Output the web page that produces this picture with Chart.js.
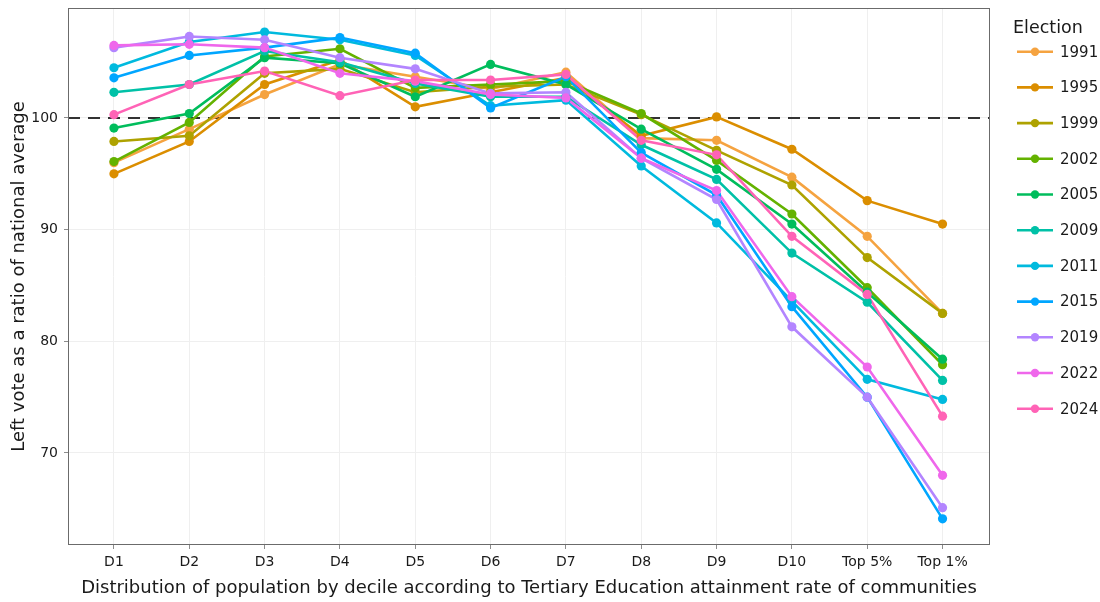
<!DOCTYPE html>
<html>
<head>
<meta charset="utf-8">
<script src="https://cdn.jsdelivr.net/npm/chart.js@4.4.1/dist/chart.umd.min.js"></script>
<style>
    html, body { margin: 0; padding: 0; background: #fff; }
    #wrap { width: 1100px; height: 602px; position: relative; }
</style>
</head>
<body>
<div id="wrap"><canvas id="leftVoteChart"></canvas></div>
<script>
// ===================================
// Left vote by tertiary education decile
// ===================================

const categories = ['D1', 'D2', 'D3', 'D4', 'D5', 'D6', 'D7', 'D8', 'D9', 'D10', 'Top 5%', 'Top 1%'];
const elections = ['1991', '1995', '1999', '2002', '2005', '2009', '2011', '2015', '2019', '2022', '2024'];
const seriesColors = ['#F5A340', '#DB8E00', '#AEA200', '#64B200', '#00BD5C', '#00C1A7', '#00BADE', '#00A6FF', '#B385FF', '#EF67EB', '#FF63B6'];

const v1991 = [96.0, 99.0, 102.1, 104.8, 103.7, 102.6, 104.1, 98.2, 98.0, 94.7, 89.4, 82.5];
const v1995 = [95.0, 97.9, 103.0, 105.2, 101.0, 102.3, 103.6, 98.4, 100.1, 97.2, 92.6, 90.5];
const v1999 = [97.9, 98.4, 104.0, 104.4, 102.3, 102.8, 103.0, 100.3, 97.1, 94.0, 87.5, 82.5];
const v2002 = [96.1, 99.6, 105.5, 106.2, 102.7, 103.0, 103.3, 100.4, 96.2, 91.4, 84.8, 77.9];
const v2005 = [99.1, 100.4, 105.4, 104.9, 101.9, 104.8, 103.0, 99.0, 95.4, 90.5, 84.4, 78.4];
const v2009 = [102.3, 103.0, 106.0, 105.0, 103.1, 101.9, 101.9, 97.6, 94.5, 87.9, 83.5, 76.5];
const v2011 = [104.5, 106.8, 107.7, 107.0, 105.6, 101.1, 101.6, 95.7, 90.6, 83.6, 76.6, 74.8];
const v2015 = [103.6, 105.6, 106.3, 107.2, 105.8, 100.9, 103.7, 96.9, 93.1, 83.1, 75.0, 64.1];
const v2019 = [106.3, 107.3, 107.0, 105.4, 104.4, 102.2, 102.3, 96.4, 92.7, 81.3, 75.0, 65.1];
const v2022 = [106.5, 106.6, 106.3, 104.0, 103.3, 102.1, 101.8, 96.4, 93.5, 84.0, 77.7, 68.0];
const v2024 = [100.3, 103.0, 104.2, 102.0, 103.4, 103.4, 103.9, 98.0, 96.7, 89.4, 84.2, 73.3];

const seriesValues = [v1991, v1995, v1999, v2002, v2005, v2009, v2011, v2015, v2019, v2022, v2024];
const yTicks = [70, 80, 90, 100];
const refValue = 100;

const FONT = "'DejaVu Sans', Verdana, sans-serif";

// lines first (all), then points on top, like ggplot
function buildDatasets() {
    const lines = [];
    const points = [];
    const n = elections.length;
    elections.forEach((year, i) => {
        const data = seriesValues[i].map((v, j) => ({ x: j, y: v }));
        lines.push({
            label: year,
            data: data,
            borderColor: seriesColors[i],
            backgroundColor: seriesColors[i],
            borderWidth: 2.6,
            pointRadius: 0,
            tension: 0,
            order: 2 * n - i
        });
        points.push({
            label: year + ' pts',
            data: data,
            showLine: false,
            borderColor: seriesColors[i],
            backgroundColor: seriesColors[i],
            pointRadius: 4.6,
            pointBorderWidth: 0,
            order: n - i
        });
    });
    return lines.concat(points);
}

// dashed reference line, panel border and legend
const extrasPlugin = {
    id: 'extras',
    beforeDatasetsDraw(chart) {
        const { ctx, chartArea, scales } = chart;
        const y = scales.y.getPixelForValue(refValue);
        ctx.save();
        ctx.strokeStyle = '#333333';
        ctx.lineWidth = 2;
        ctx.setLineDash([12, 8]);
        ctx.beginPath();
        ctx.moveTo(chartArea.left, y);
        ctx.lineTo(chartArea.right, y);
        ctx.stroke();
        ctx.restore();
    },
    afterDraw(chart) {
        const { ctx, chartArea } = chart;
        ctx.save();
        ctx.strokeStyle = '#6b6b6b';
        ctx.lineWidth = 1;
        ctx.strokeRect(chartArea.left + 0.5, chartArea.top + 0.5,
            chartArea.right - chartArea.left - 1, chartArea.bottom - chartArea.top - 1);

        // legend
        ctx.fillStyle = '#1a1a1a';
        ctx.font = '17.5px ' + FONT;
        ctx.textBaseline = 'middle';
        ctx.textAlign = 'left';
        ctx.fillText('Election', 1013, 28);
        ctx.font = '15px ' + FONT;
        elections.forEach((year, i) => {
            const y = 51.7 + i * 35.7;
            ctx.strokeStyle = seriesColors[i];
            ctx.lineWidth = 2.6;
            ctx.beginPath();
            ctx.moveTo(1017, y);
            ctx.lineTo(1053, y);
            ctx.stroke();
            ctx.fillStyle = seriesColors[i];
            ctx.beginPath();
            ctx.arc(1035, y, 4.2, 0, Math.PI * 2);
            ctx.fill();
            ctx.fillStyle = '#1a1a1a';
            ctx.fillText(year, 1060, y + 1);
        });
        ctx.restore();
    }
};

function initChart() {
    const ctx = document.getElementById('leftVoteChart');
    new Chart(ctx, {
        type: 'line',
        data: { datasets: buildDatasets() },
        options: {
            responsive: true,
            maintainAspectRatio: false,
            animation: false,
            layout: { autoPadding: false, padding: { left: 0, top: 8, right: 110, bottom: 0 } },
            plugins: {
                legend: { display: false },
                tooltip: { enabled: false }
            },
            scales: {
                x: {
                    type: 'linear',
                    min: -0.61,
                    max: 11.63,
                    afterBuildTicks: (scale) => {
                        scale.ticks = categories.map((c, i) => ({ value: i }));
                    },
                    afterFit: (scale) => {
                        scale.height = 57;
                        scale.paddingLeft = 0;
                        scale.paddingRight = 0;
                    },
                    border: { display: false },
                    grid: {
                        color: '#efefef',
                        lineWidth: 1,
                        tickLength: 4,
                        tickColor: '#8c8c8c'
                    },
                    ticks: {
                        autoSkip: false,
                        maxRotation: 0,
                        padding: 5,
                        color: '#1a1a1a',
                        font: { family: FONT, size: 14 },
                        callback: (value) => categories[value]
                    },
                    title: {
                        display: true,
                        text: 'Distribution of population by decile according to Tertiary Education attainment rate of communities',
                        color: '#1a1a1a',
                        font: { family: FONT, size: 18 },
                        padding: { top: 0, bottom: 3 }
                    }
                },
                y: {
                    min: 61.76,
                    max: 109.85,
                    afterBuildTicks: (scale) => {
                        scale.ticks = yTicks.map(v => ({ value: v }));
                    },
                    afterFit: (scale) => {
                        scale.width = 68;
                        scale.paddingTop = 0;
                        scale.paddingBottom = 0;
                    },
                    border: { display: false },
                    grid: {
                        color: '#efefef',
                        lineWidth: 1,
                        tickLength: 4,
                        tickColor: '#8c8c8c'
                    },
                    ticks: {
                        padding: 6,
                        color: '#1a1a1a',
                        font: { family: FONT, size: 14 }
                    },
                    title: {
                        display: true,
                        text: 'Left vote as a ratio of national average',
                        color: '#1a1a1a',
                        font: { family: FONT, size: 18 },
                        padding: { top: 9, bottom: 0 }
                    }
                }
            }
        },
        plugins: [extrasPlugin]
    });
}

document.addEventListener('DOMContentLoaded', () => {
    initChart();
});
</script>
</body>
</html>
